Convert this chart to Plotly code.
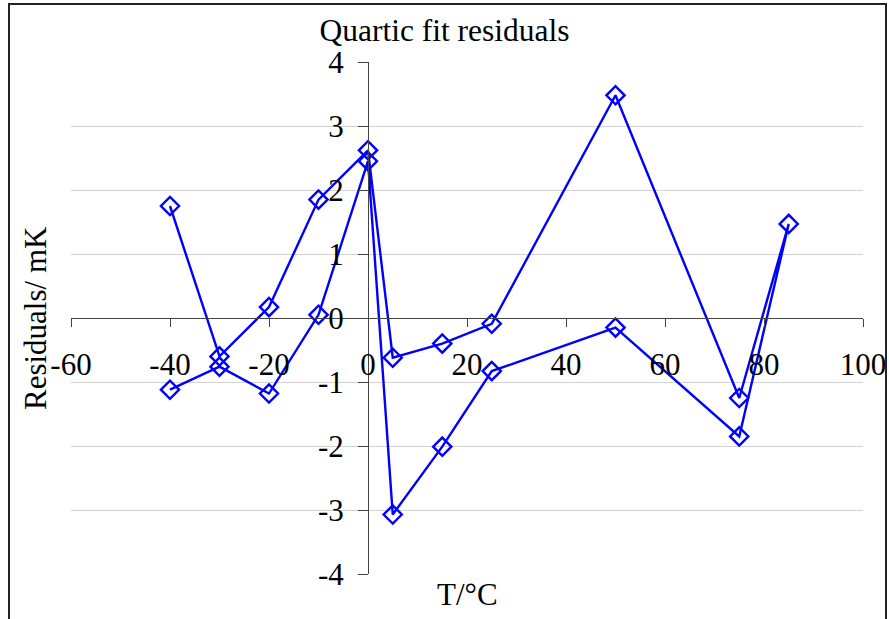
import plotly.graph_objects as go

# Data (temperature in °C, residuals in mK), in the order the line connects them
temps = [-40, -30, -20, -10, 0, 5, 15, 25, 50, 75, 85, 75, 50, 25, 15, 5, 0, -10, -20, -30, -40]
residuals = [1.75, -0.60, 0.17, 1.85, 2.62, -0.62, -0.40, -0.09, 3.48, -1.25, 1.47,
             -1.85, -0.15, -0.83, -2.01, -3.07, 2.45, 0.05, -1.18, -0.76, -1.12]

x_ticks = [-60, -40, -20, 0, 20, 40, 60, 80, 100]
x_ticklabels = ["-60", "-40", "-20", "0", "20", "40", "60", "80", "100"]
y_ticks = [-4, -3, -2, -1, 0, 1, 2, 3, 4]
y_ticklabels = ["-4", "-3", "-2", "-1", "0", "1", "2", "3", "4"]

title_text = "Quartic fit residuals"
x_title = "T/°C"
y_title = "Residuals/ mK"

FONT = "Liberation Serif"
FS = 31
W, H = 889, 619
ML, MR, MT, MB = 71, 26, 62, 45
PW, PH = W - ML - MR, H - MT - MB

def px_to_paper_x(px):
    return (px - ML) / PW

def px_to_paper_y(py):
    return (H - MB - py) / PH

fig = go.Figure()
fig.add_trace(go.Scatter(
    x=temps, y=residuals, mode="lines+markers",
    line=dict(color="#0000FF", width=2.4),
    marker=dict(symbol="diamond-open", size=14, color="#0000FF",
                line=dict(color="#0000FF", width=2.4)),
    showlegend=False, cliponaxis=False,
))

axis_color = "#444444"
fig.update_layout(
    width=W, height=H, autosize=False,
    margin=dict(l=ML, r=MR, t=MT, b=MB, pad=0, autoexpand=False),
    paper_bgcolor="white", plot_bgcolor="white",
    font=dict(family=FONT, size=FS, color="black"),
    title=dict(text=title_text, x=0.5, xref="container", xanchor="center",
               y=1 - 30 / H, yref="container", yanchor="middle", automargin=False,
               font=dict(family=FONT, size=31.5, color="black")),
    xaxis=dict(range=[-60, 100], tickvals=x_ticks, ticktext=x_ticklabels,
               anchor="free", position=0.5, showline=True, linecolor=axis_color,
               linewidth=1, ticks="outside", ticklen=8, tickcolor=axis_color,
               tickwidth=1, showgrid=False, zeroline=False, automargin=False,
               ticklabelstandoff=11,
               tickfont=dict(family=FONT, size=FS, color="black")),
    yaxis=dict(range=[-4, 4], tickvals=y_ticks, ticktext=y_ticklabels,
               anchor="free", position=0.375, showline=True, linecolor=axis_color,
               linewidth=1, ticks="outside", ticklen=10, tickcolor=axis_color,
               tickwidth=1, showgrid=True, gridcolor="#d2d2d2", gridwidth=1,
               zeroline=False, ticklabelstandoff=8, automargin=False,
               tickfont=dict(family=FONT, size=FS, color="black")),
    annotations=[
        dict(text=x_title, xref="paper", yref="paper", x=0.5,
             y=px_to_paper_y(594), xanchor="center", yanchor="middle",
             showarrow=False, font=dict(family=FONT, size=FS, color="black")),
        dict(text=y_title, xref="paper", yref="paper", x=px_to_paper_x(35),
             y=0.5, xanchor="center", yanchor="middle", textangle=-90,
             showarrow=False, font=dict(family=FONT, size=FS, color="black")),
    ],
    shapes=[
        dict(type="rect", xref="paper", yref="paper",
             x0=px_to_paper_x(9), x1=px_to_paper_x(886),
             y0=px_to_paper_y(640), y1=px_to_paper_y(4),
             line=dict(color="#222222", width=2), fillcolor="rgba(0,0,0,0)",
             layer="above"),
    ],
)

fig.write_html("out.html", config={"displayModeBar": False},
               post_script="document.body.style.margin='0';document.body.style.overflow='hidden';")
